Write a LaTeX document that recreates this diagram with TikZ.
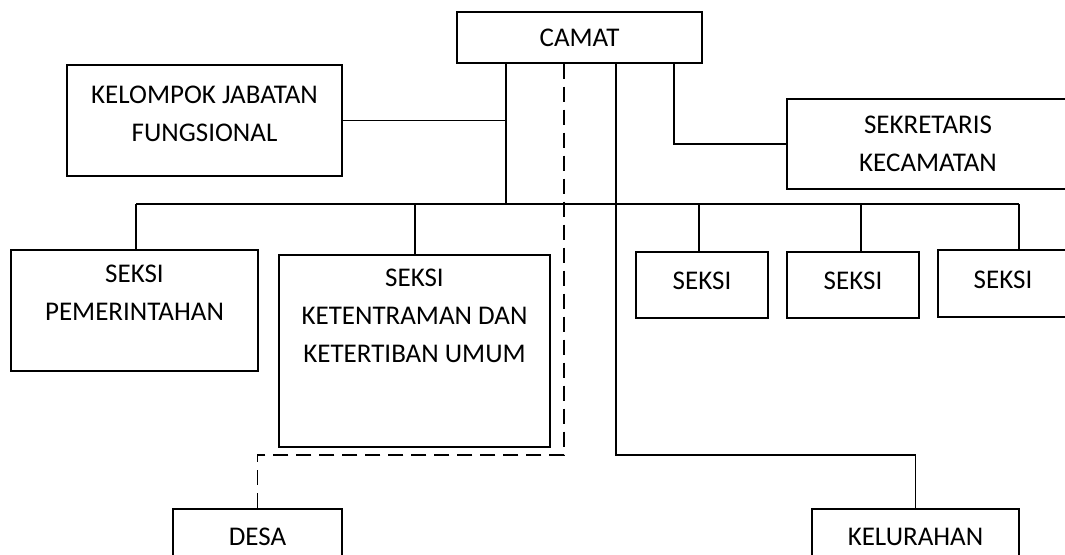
\documentclass[tikz,border=0pt]{standalone}
\usepackage{fontspec}
\setmainfont{Carlito}
\usepackage{tikz}
\usetikzlibrary{positioning,fit,calc}

\begin{document}
\begin{tikzpicture}[
                  x=0.5pt,y=-0.5pt,
                  font=\fontsize{13.5}{19}\selectfont,
                  unit/.style={draw,line width=0.75pt,inner sep=0pt},
                  txt/.style={inner sep=0pt,align=center},
                  link/.style={line width=0.75pt},
                  dlink/.style={link,dash pattern=on 7.5pt off 4pt}
                ]
                \useasboundingbox (0,0) rectangle (1065,555);
                \clip (0,0) rectangle (1065,555);
                % boxes
                \node[unit,fit={(457,12)(702,63)}] (camat) {};
                \node[unit,fit={(67,65)(342,176)}] (jabfung) {};
                \node[unit,fit={(787,99)(1069,189)}] (sekcam) {};
                \node[unit,fit={(11,250)(258,371)}] (pem) {};
                \node[unit,fit={(279,255)(550,447)}] (trantib) {};
                \node[unit,fit={(636,252)(768,318)}] (seksiA) {};
                \node[unit,fit={(787,252)(919,318)}] (seksiB) {};
                \node[unit,fit={(938,250)(1068,317)}] (seksiC) {};
                \node[unit,fit={(173,509)(342,565)}] (desa) {};
                \node[unit,fit={(812,509)(1019,565)}] (kel) {};
                % texts
                \node[txt] (camattxt) at (camat.center) {CAMAT};
                \node[txt] (jabfungtxt) at ($(jabfung.center)+(0,-7)$) {KELOMPOK JABATAN\\FUNGSIONAL};
                \node[txt] (sekcamtxt) at (sekcam.center) {SEKRETARIS\\KECAMATAN};
                \node[txt] (pemtxt) at ($(pem.center)+(0,-18)$) {SEKSI\\PEMERINTAHAN};
                \node[txt] (trantibtxt) at ($(trantib.center)+(0,-35)$) {SEKSI\\KETENTRAMAN DAN\\KETERTIBAN UMUM};
                \node[txt] (seksiAtxt) at ($(seksiA.center)+(0,-4)$) {SEKSI};
                \node[txt] (seksiBtxt) at ($(seksiB.center)+(0,-4)$) {SEKSI};
                \node[txt] (seksiCtxt) at ($(seksiC.center)+(0,-4)$) {SEKSI};
                \node[txt] (desatxt) at (desa.center) {DESA};
                \node[txt] (keltxt) at (kel.center) {KELURAHAN};

                % lines
                \coordinate (hub) at (506,204);
                \draw[link] (camat.south -| hub) -- (hub);
                \draw[link] (jabfung.east) -- (jabfung.east -| hub);
                \coordinate (busL) at (136,204);
                \coordinate (busR) at (1019,204);
                \draw[link] (busL) -- (busR);
                \foreach \n/\x in {pem/136,trantib/415,seksiA/699,seksiB/861,seksiC/1019}{
                  \coordinate (drop) at (\x,204);
                  \draw[link] (drop) -- (drop |- \n.north);
                }
                \coordinate (sekx) at (674,0);
                \draw[link] (camat.south -| sekx) |- (sekcam.west);
                \coordinate (kelx) at (616,455);
                \draw[link] (camat.south -| kelx) -- (kelx) -| (kel.north);
                \coordinate (desx) at (564,455);
                \draw[dlink] (camat.south -| desx) -- (desx) -| (desa.north);
                \end{tikzpicture}
\end{document}
